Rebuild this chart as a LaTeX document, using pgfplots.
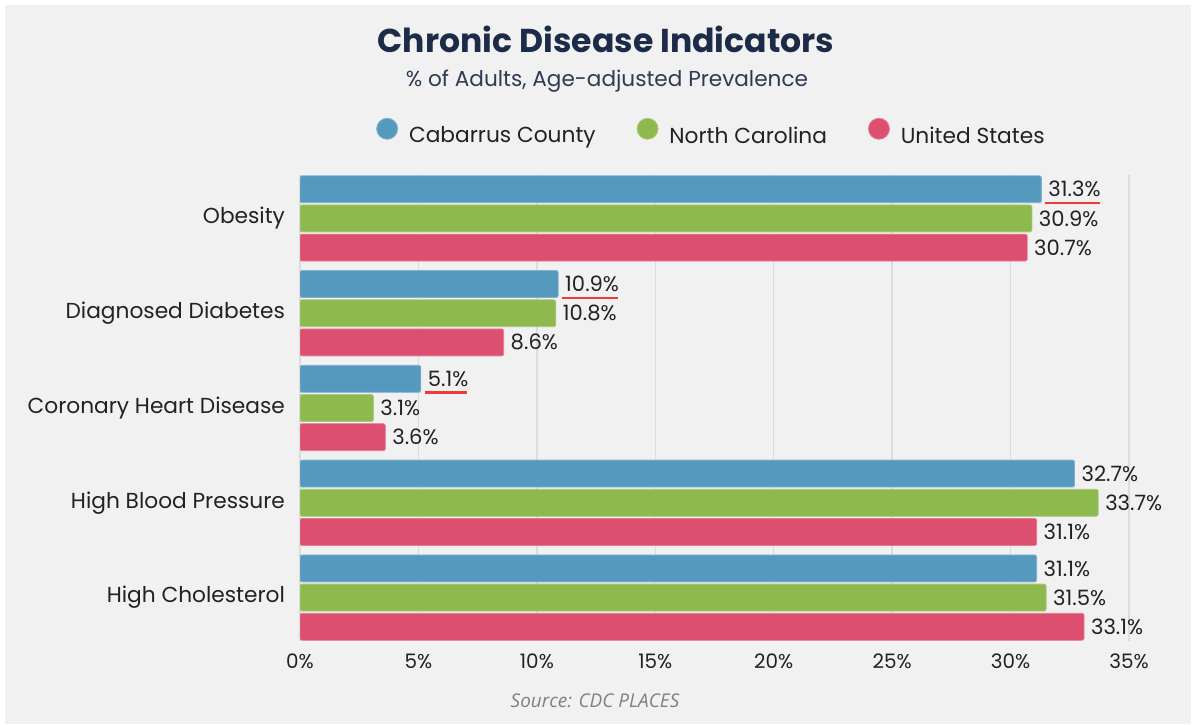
\documentclass[border=0pt]{standalone}
\usepackage{pgfplots}
\pgfplotsset{compat=1.18}
\usepackage{fontspec}
\setmainfont{Poppins}
\newfontfamily\srcfont{Open Sans}
\definecolor{bgc}{HTML}{F1F1F1}
\definecolor{titlec}{HTML}{1C2B47}
\definecolor{subc}{HTML}{2E3B52}
\definecolor{txt}{HTML}{222222}
\definecolor{gridc}{HTML}{DCDCDC}
\definecolor{cblue}{HTML}{5699BF}
\definecolor{cgreen}{HTML}{8DB94E}
\definecolor{cred}{HTML}{DC4F6F}
\definecolor{ulred}{HTML}{F03A3A}
\protected\def\ru#1{\setbox0\hbox{#1}\rlap{\smash{\kern-1.5bp\textcolor{ulred}{\rule[-3.6bp]{\dimexpr\wd0+1bp\relax}{1.1bp}}}}\box0}
\pgfplotsset{legcirc/.style={legend image code/.code={\fill[##1] (5.25bp,3.8bp) circle (5.25bp);}}}
\begin{document}
\begin{tikzpicture}[x=1bp,y=1bp]
\fill[white] (0,0) rectangle (597,362);
\fill[bgc] (2.5,0) rectangle (595.5,359.5);
\node[anchor=base, font=\fontsize{16.6}{20}\selectfont\bfseries, text=titlec] at (303,336) {Chronic Disease Indicators};
\node[anchor=base, font=\fontsize{10.85}{13}\selectfont, text=subc] at (303.5,319) {\% of Adults, Age-adjusted Prevalence};
\node[anchor=base, font=\srcfont\itshape\fontsize{9.5}{11}\selectfont, text=gray] at (297.5,8.5) {Source: CDC PLACES};
\begin{axis}[
  at={(150bp,41.5bp)}, anchor=south west,
  scale only axis, width=414.5bp, height=233bp,
  xmin=0, xmax=35, ymin=-0.458, ymax=4.458, y dir=reverse,
  xbar, bar width=0.284, bar shift=0pt,
  axis line style={draw=none},
  major tick length=0pt,
  xtick={0,5,...,35},
  xticklabels={0\%,5\%,10\%,15\%,20\%,25\%,30\%,35\%},
  ytick={0,1,2,3,4},
  yticklabels={Obesity,Diagnosed Diabetes,Coronary Heart Disease,High Blood Pressure,High Cholesterol},
  xmajorgrids, grid style={gridc, line width=0.7bp},
  xticklabel style={font=\fontsize{10}{12}\selectfont, text=txt, yshift=-3bp},
  yticklabel style={font=\fontsize{10.9}{13}\selectfont, text=txt, xshift=-4bp},
  point meta=explicit symbolic,
  nodes near coords,
  every node near coord/.append style={font=\fontsize{10.6}{12}\selectfont, text=txt, anchor=west, xshift=0bp},
  legend style={at={(axis description cs:0.4975,1.088)}, anchor=center, draw=none, fill=none,
    legend columns=3, font=\fontsize{10.9}{13}\selectfont, text=txt,
    /tikz/every even column/.append style={column sep=18.5bp}},
]
\addplot[legcirc, fill=cblue, draw=cblue!75!white, line width=0.4bp, rounded corners=1bp]
  coordinates {(31.3,-0.308) [\ru{31.3\%}] (10.9,0.692) [\ru{10.9\%}] (5.1,1.692) [\ru{5.1\%}] (32.7,2.692) [32.7\%] (31.1,3.692) [31.1\%]};
\addlegendentry{\hspace{3.5bp}Cabarrus County}
\addplot[legcirc, fill=cgreen, draw=cgreen!75!white, line width=0.4bp, rounded corners=1bp]
  coordinates {(30.9,0) [30.9\%] (10.8,1) [10.8\%] (3.1,2) [3.1\%] (33.7,3) [33.7\%] (31.5,4) [31.5\%]};
\addlegendentry{\hspace{3.5bp}North Carolina}
\addplot[legcirc, fill=cred, draw=cred!75!white, line width=0.4bp, rounded corners=1bp]
  coordinates {(30.7,0.308) [30.7\%] (8.6,1.308) [8.6\%] (3.6,2.308) [3.6\%] (31.1,3.308) [31.1\%] (33.1,4.308) [33.1\%]};
\addlegendentry{\hspace{3.5bp}United States}
\end{axis}
\end{tikzpicture}
\end{document}
